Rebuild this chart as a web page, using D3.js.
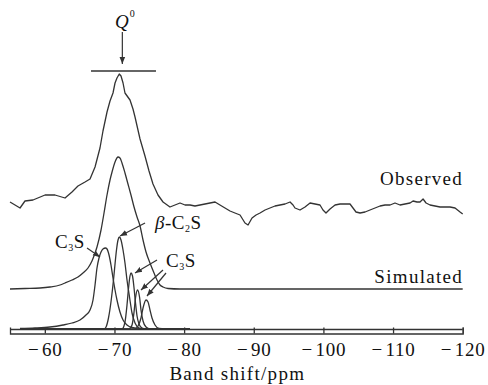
<!DOCTYPE html>
<html>
<head>
<meta charset="utf-8">
<script src="https://cdn.jsdelivr.net/npm/d3@7"></script>
<style>
  body { margin: 0; background: #fff; }
</style>
</head>
<body>
<div id="chart"></div>
<script>
// tick values (ppm)
const ppmTicks = [-60, -70, -80, -90, -100, -110, -120];

// observed spectrum, [ppm, intensity] (stacked above the axis)
const observed = [
  [-55.00,127],[-55.72,124],[-56.44,121],[-57.15,128],[-58.30,129],[-60.03,134],[-61.46,134],
  [-62.90,131],[-63.90,137],[-64.76,143],[-65.77,147],[-66.49,150],[-67.21,162],[-67.92,181],
  [-68.35,198],[-68.93,217],[-69.36,228],[-69.79,236],[-70.08,246],[-70.36,251],[-70.69,255],
  [-70.94,253],[-71.23,246],[-71.51,236],[-72.23,229],[-72.66,220],[-72.95,212],[-73.67,190],
  [-74.38,173],[-74.96,158],[-75.53,145],[-76.25,134],[-76.97,127],[-77.97,122],[-78.69,124],
  [-79.41,126],[-80.13,124],[-80.85,124],[-81.56,123],[-82.28,124],[-83.00,125],[-83.72,126],
  [-84.44,127],[-85.15,124],[-85.87,121],[-86.59,118],[-87.30,116],[-88.03,114],[-88.74,106],
  [-89.18,104],[-89.75,111],[-90.33,114],[-90.90,116],[-91.62,119],[-92.33,121],[-93.05,123],
  [-93.77,124],[-94.49,125],[-95.21,127],[-95.64,124],[-95.92,121],[-96.64,119],[-97.36,122],
  [-98.08,126],[-98.80,125],[-99.51,124],[-99.94,119],[-100.37,116],[-100.95,120],[-101.67,124],
  [-102.39,125],[-103.10,125],[-103.82,125],[-104.25,121],[-104.68,117],[-105.26,116],[-105.98,117],
  [-106.69,119],[-107.41,121],[-108.13,123],[-108.85,124],[-109.57,124],[-110.28,126],[-111.00,124],
  [-111.72,125],[-112.44,126],[-112.87,128],[-113.44,127],[-113.87,127],[-114.31,130],[-114.74,126],
  [-115.31,124],[-116.03,123],[-116.75,122],[-117.46,122],[-118.18,122],[-118.90,121],[-119.62,117],
  [-120.00,115]
];

// simulated spectrum
const simulated = [
  [-55.00,40],[-57.15,40.5],[-59.31,41],[-60.74,42],[-62.18,44],[-62.90,46],[-63.90,49],
  [-64.76,52],[-65.48,56],[-66.20,61],[-66.77,68],[-67.21,76],[-67.49,82],[-68.07,99],
  [-68.50,116],[-68.93,134],[-69.36,149],[-69.65,157],[-70.08,167],[-70.51,172],[-70.79,171],
  [-71.08,166],[-71.51,156],[-71.94,145],[-72.37,134],[-72.81,122],[-73.24,112],[-73.67,103],
  [-74.10,89],[-74.53,77],[-75.10,66],[-75.68,56],[-76.11,49],[-76.54,44],[-76.97,42],
  [-77.69,40.5],[-79.41,40],[-120.00,40]
];

// deconvolved components
const c3s1 = [
  [-56.44,0.5],[-58.59,1],[-60.74,2],[-62.61,4],[-63.90,6],[-65.05,9],[-65.91,14],[-66.49,19],
  [-66.92,29],[-67.21,44],[-67.49,61],[-67.78,71],[-68.07,77],[-68.35,80],[-68.71,81],[-68.93,80],
  [-69.22,74],[-69.50,64],[-69.79,51],[-70.08,39],[-70.36,29],[-70.79,17],[-71.23,9],[-71.80,4],
  [-72.52,1.5],[-73.67,0.5],[-75.10,0],[-80.85,0]
];
const betaC2s = [
  [-56.44,0],[-68.50,0],[-68.79,2],[-69.14,11],[-69.57,31],[-69.86,49],[-70.08,65],[-70.29,79],
  [-70.51,89],[-70.72,92],[-70.94,89],[-71.23,79],[-71.51,66],[-71.80,49],[-72.16,32],[-72.52,16],
  [-72.95,6],[-73.52,1],[-74.10,0],[-80.85,0]
];
const c3s2 = [
  [-56.44,0],[-71.08,0],[-71.51,7],[-71.80,24],[-72.02,41],[-72.23,53],[-72.37,56],[-72.59,53],
  [-72.81,41],[-73.02,26],[-73.24,13],[-73.52,5],[-73.95,1],[-74.53,0],[-80.85,0]
];
const c3s3 = [
  [-56.44,0],[-72.09,0],[-72.52,4],[-72.81,17],[-73.02,31],[-73.31,39],[-73.60,32],[-73.81,19],
  [-74.10,8],[-74.53,2],[-75.10,0],[-80.85,0]
];
const c3s4 = [
  [-56.44,0],[-72.95,0],[-73.38,3],[-73.81,11],[-74.10,21],[-74.53,29],[-74.82,27],[-75.10,19],
  [-75.39,11],[-75.82,4],[-76.39,0.5],[-77.26,0],[-80.85,0]
];

// annotation arrows [fromPpm, fromI, toPpm, toI]
const arrows = [
  [-71.13, 297, -71.13, 265],
  [-74.39, 106, -70.80, 93],
  [-66.06, 81, -67.92, 72],
  [-76.11, 69, -72.95, 56],
  [-76.97, 59, -73.81, 39],
  [-77.40, 56, -74.67, 33]
];

const width = 488, height = 385;
const ink = "#333";
const serif = "'Liberation Serif', 'Times New Roman', serif";

const svg = d3.select("#chart").append("svg")
  .attr("width", width)
  .attr("height", height)
  .style("background", "#fff");

const x = d3.scaleLinear().domain([-55, -120]).range([10, 462.7]);
const y = d3.scaleLinear().domain([0, 260]).range([329, 69]);

// arrow head
svg.append("defs").append("marker")
  .attr("id", "ah")
  .attr("viewBox", "0 0 10 10")
  .attr("refX", 10).attr("refY", 5)
  .attr("markerWidth", 7).attr("markerHeight", 7)
  .attr("markerUnits", "userSpaceOnUse")
  .attr("orient", "auto")
  .append("path")
  .attr("d", "M0,1L10,5L0,9z")
  .attr("fill", ink);

// axis: double line with upward ticks
const axisG = svg.append("g")
  .attr("transform", "translate(0,333.5)")
  .call(d3.axisBottom(x)
    .tickValues(ppmTicks)
    .tickSizeInner(-6)
    .tickSizeOuter(-6)
    .tickPadding(9.5)
    .tickFormat(d => "\u2212\u200a" + Math.abs(d)));
axisG.select(".domain").attr("stroke", ink).attr("stroke-width", 1.3);
axisG.selectAll(".tick line").attr("stroke", ink).attr("stroke-width", 1.3);
axisG.selectAll(".tick text")
  .attr("fill", "#111")
  .style("font-family", serif)
  .style("font-size", "19px")
  .style("letter-spacing", "0.8px");

svg.append("line")
  .attr("x1", x(-55)).attr("x2", x(-120))
  .attr("y1", y(0) + 0.5).attr("y2", y(0) + 0.5)
  .attr("stroke", ink).attr("stroke-width", 1.3);

// axis title
svg.append("text")
  .attr("x", (x(-55) + x(-120)) / 2 + 1)
  .attr("y", 380)
  .attr("text-anchor", "middle")
  .style("font-family", serif)
  .style("font-size", "19px")
  .style("letter-spacing", "1.3px")
  .attr("fill", "#111")
  .text("Band shift/ppm");

const smooth = d3.line().curve(d3.curveMonotoneX).x(d => x(d[0])).y(d => y(d[1]));
const jagged = d3.line().x(d => x(d[0])).y(d => y(d[1]));

// components
[c3s1, betaC2s, c3s2, c3s3, c3s4].forEach(s => {
  svg.append("path")
    .datum(s)
    .attr("fill", "none")
    .attr("stroke", ink)
    .attr("stroke-width", 1.3)
    .attr("d", smooth);
});

// simulated
svg.append("path")
  .datum(simulated)
  .attr("fill", "none")
  .attr("stroke", ink)
  .attr("stroke-width", 1.3)
  .attr("d", smooth);

// observed
svg.append("path")
  .datum(observed)
  .attr("fill", "none")
  .attr("stroke", ink)
  .attr("stroke-width", 1.3)
  .attr("stroke-linejoin", "round")
  .attr("d", jagged);

// Q0 bar
svg.append("line")
  .attr("x1", x(-66.63)).attr("x2", x(-75.96))
  .attr("y1", y(258)).attr("y2", y(258))
  .attr("stroke", ink).attr("stroke-width", 1.4);

// arrows
svg.selectAll(".arrow")
  .data(arrows)
  .enter()
  .append("line")
  .attr("class", "arrow")
  .attr("x1", d => x(d[0])).attr("y1", d => y(d[1]))
  .attr("x2", d => x(d[2])).attr("y2", d => y(d[3]))
  .attr("stroke", ink)
  .attr("stroke-width", 1.2)
  .attr("marker-end", "url(#ah)");

// labels
const label = (ppm, inten, anchor) => svg.append("text")
  .attr("x", x(ppm)).attr("y", y(inten))
  .attr("text-anchor", anchor)
  .style("font-family", serif)
  .style("font-size", "19px")
  .style("letter-spacing", "1.3px")
  .attr("fill", "#111");

label(-120.06, 144, "end").text("Observed");
label(-120.06, 46, "end").text("Simulated");

const q = label(-70.08, 301, "start").style("letter-spacing", "0px");
q.append("tspan").style("font-style", "italic").text("Q");
q.append("tspan").attr("font-size", 10).attr("dy", -11).attr("dx", 1).text("0");

const b = label(-75.82, 100, "start").style("letter-spacing", "0.5px");
b.append("tspan").style("font-style", "italic").text("\u03b2");
b.append("tspan").text("-C");
b.append("tspan").attr("font-size", 10).attr("dy", 3).text("2");
b.append("tspan").attr("dy", -3).text("S");

[[-61.46, 81], [-77.40, 62]].forEach(p => {
  const t = label(p[0], p[1], "start").style("letter-spacing", "0.5px");
  t.append("tspan").text("C");
  t.append("tspan").attr("font-size", 10).attr("dy", 3).text("3");
  t.append("tspan").attr("dy", -3).text("S");
});
</script>
</body>
</html>
